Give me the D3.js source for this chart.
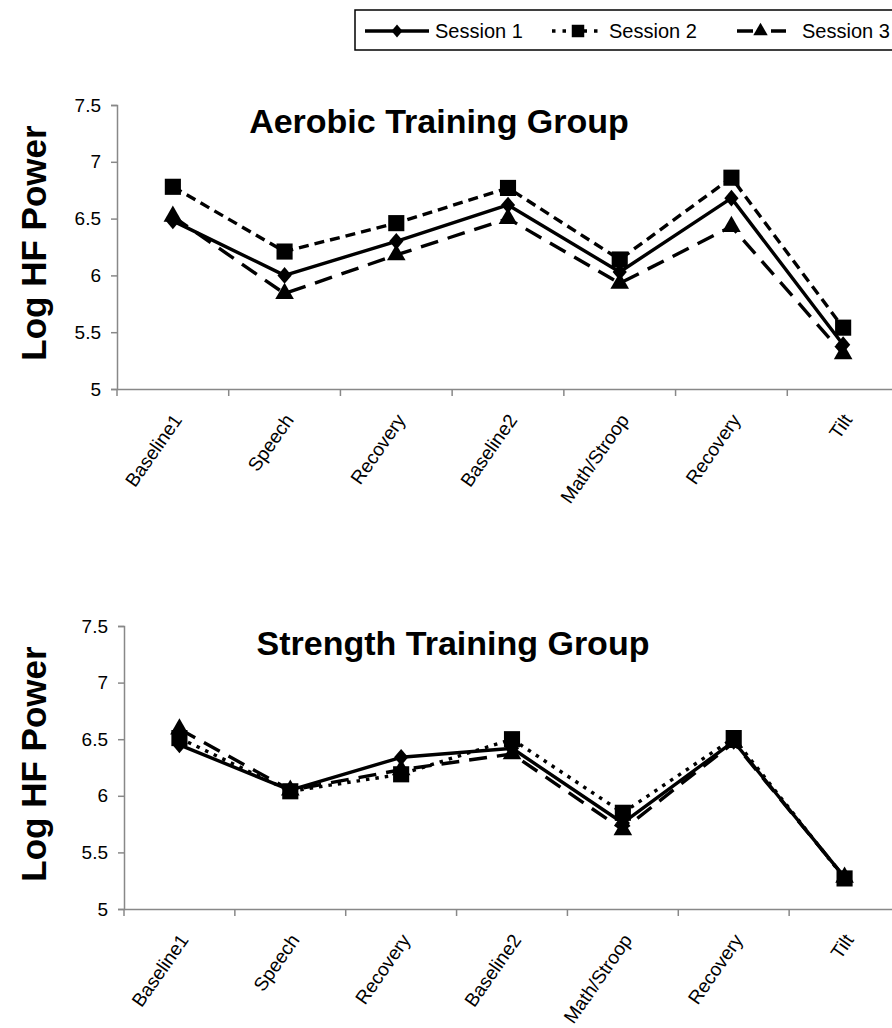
<!DOCTYPE html>
<html><head><meta charset="utf-8">
<script src="https://cdn.jsdelivr.net/npm/d3@7"></script>
<style>body{margin:0;background:#fff}svg{display:block}</style>
</head><body>
<svg id="c" width="892" height="1028"></svg>
<script>
const categories = ["Baseline1","Speech","Recovery","Baseline2","Math/Stroop","Recovery","Tilt"];
const seriesNames = ["Session 1","Session 2","Session 3"];
const yTicks = [5, 5.5, 6, 6.5, 7, 7.5];
const aerobicS1 = [6.48, 6.00, 6.30, 6.62, 6.03, 6.68, 5.39];
const aerobicS2 = [6.78, 6.21, 6.46, 6.77, 6.14, 6.86, 5.54];
const aerobicS3 = [6.52, 5.84, 6.18, 6.50, 5.93, 6.43, 5.31];
const strengthS1 = [6.45, 6.05, 6.34, 6.42, 5.76, 6.48, 5.28];
const strengthS2 = [6.51, 6.04, 6.19, 6.50, 5.85, 6.51, 5.27];
const strengthS3 = [6.59, 6.05, 6.23, 6.37, 5.70, 6.47, 5.28];

const svg = d3.select("#c");
const FONT = "Liberation Sans, Arial, sans-serif";

// compact diamond (wider than d3's default)
const diamond = { draw(ctx, size) {
  const w = Math.sqrt(size) * 0.58, h = Math.sqrt(size) * 0.68;
  ctx.moveTo(0, -h); ctx.lineTo(w, 0); ctx.lineTo(0, h); ctx.lineTo(-w, 0); ctx.closePath();
}};
const markerSym = [diamond, d3.symbolSquare, d3.symbolTriangle];
const markerSize = [150, 260, 150];

function drawChart(cfg){
  const g = svg.append("g");
  const x = d3.scaleBand().domain(d3.range(categories.length)).range([cfg.left, cfg.right]);
  const y = d3.scaleLinear().domain([5, 7.5]).range([cfg.bottom, cfg.top]);

  // y axis
  const ya = g.append("g").attr("transform", `translate(${cfg.left},0)`)
    .call(d3.axisLeft(y).tickValues(yTicks).tickSize(6).tickPadding(10).tickFormat(d => String(d)));
  ya.attr("font-size", null).attr("font-family", null);
  ya.select(".domain").attr("stroke", "#888").attr("stroke-width", 1.5);
  ya.selectAll(".tick line").attr("stroke", "#888").attr("stroke-width", 1.5);
  ya.selectAll(".tick text").style("font-family", FONT).style("font-size", "19px").attr("fill", "#000");

  // x axis
  const xa = g.append("g").attr("transform", `translate(0,${cfg.bottom})`)
    .call(d3.axisBottom(x).tickValues([]).tickSizeOuter(0));
  xa.select(".domain").attr("stroke", "#888").attr("stroke-width", 1.5);
  const bounds = d3.range(categories.length + 1).map(i => cfg.left + i * x.step());
  g.selectAll(".xt").data(bounds).enter().append("line")
    .attr("x1", d => d).attr("x2", d => d).attr("y1", cfg.bottom).attr("y2", cfg.bottom + 7)
    .attr("stroke", "#888").attr("stroke-width", 1.5);
  g.selectAll(".xl").data(categories).enter().append("text")
    .attr("transform", (d, i) => `translate(${x(i) + x.bandwidth()/2 + 10},${cfg.bottom + 31}) rotate(-55)`)
    .attr("text-anchor", "end")
    .style("font-family", FONT).style("font-size", "19px").text(d => d);

  // title
  g.append("text").attr("x", cfg.titleX).attr("y", cfg.titleY).attr("text-anchor", "middle")
    .style("font-family", FONT).style("font-weight", "bold").style("font-size", "34px").text(cfg.title);

  // y label
  g.append("text").attr("transform", `translate(46,${cfg.labelY}) rotate(-90)`).attr("text-anchor", "middle")
    .style("font-family", FONT).style("font-weight", "bold").style("font-size", "35px").text("Log HF Power");

  const line = d3.line().x((d, i) => x(i) + x.bandwidth()/2).y(d => y(d));
  cfg.series.forEach((s, k) => {
    g.append("path").datum(s).attr("d", line).attr("fill", "none").attr("stroke", "#000")
      .attr("stroke-width", 3.4).attr("stroke-dasharray", cfg.dash[k]).attr("stroke-linejoin", "round");
  });
  cfg.series.forEach((s, k) => {
    g.selectAll(".m" + k).data(s).enter().append("path")
      .attr("transform", (d, i) => `translate(${x(i) + x.bandwidth()/2},${y(d)})`)
      .attr("d", d3.symbol().type(markerSym[k]).size(markerSize[k])).attr("fill", "#000");
  });
}

drawChart({left:117, right:899, top:105, bottom:389, title:"Aerobic Training Group", titleX:439, titleY:133, labelY:243,
  series:[aerobicS1, aerobicS2, aerobicS3], dash:[null, "10,6", "18,10"]});
drawChart({left:124, right:900, top:626, bottom:909, title:"Strength Training Group", titleX:453, titleY:655, labelY:764,
  series:[strengthS1, strengthS2, strengthS3], dash:[null, "3.5,6", "18,10"]});

// legend
const lg = svg.append("g");
lg.append("rect").attr("x", 355).attr("y", 10).attr("width", 560).attr("height", 40)
  .attr("fill", "#fff").attr("stroke", "#000").attr("stroke-width", 1.5);
const legItems = [
  {x1:365, x2:429, tx:435, dash:null},
  {x1:552, x2:604, tx:609, dash:"3.5,7"},
  {x1:737, x2:786, tx:802, dash:"16,18"}
];
legItems.forEach((it, k) => {
  lg.append("line").attr("x1", it.x1).attr("x2", it.x2).attr("y1", 31).attr("y2", 31)
    .attr("stroke", "#000").attr("stroke-width", 3.4).attr("stroke-dasharray", it.dash);
  lg.append("path").attr("transform", `translate(${(it.x1 + it.x2)/2 + (k === 2 ? -1 : 0)},31)`)
    .attr("d", d3.symbol().type(markerSym[k]).size(markerSize[k] * 0.6)).attr("fill", "#000");
  lg.append("text").attr("x", it.tx).attr("y", 38)
    .style("font-family", FONT).style("font-size", "20px").text(seriesNames[k]);
});
</script>
</body></html>
